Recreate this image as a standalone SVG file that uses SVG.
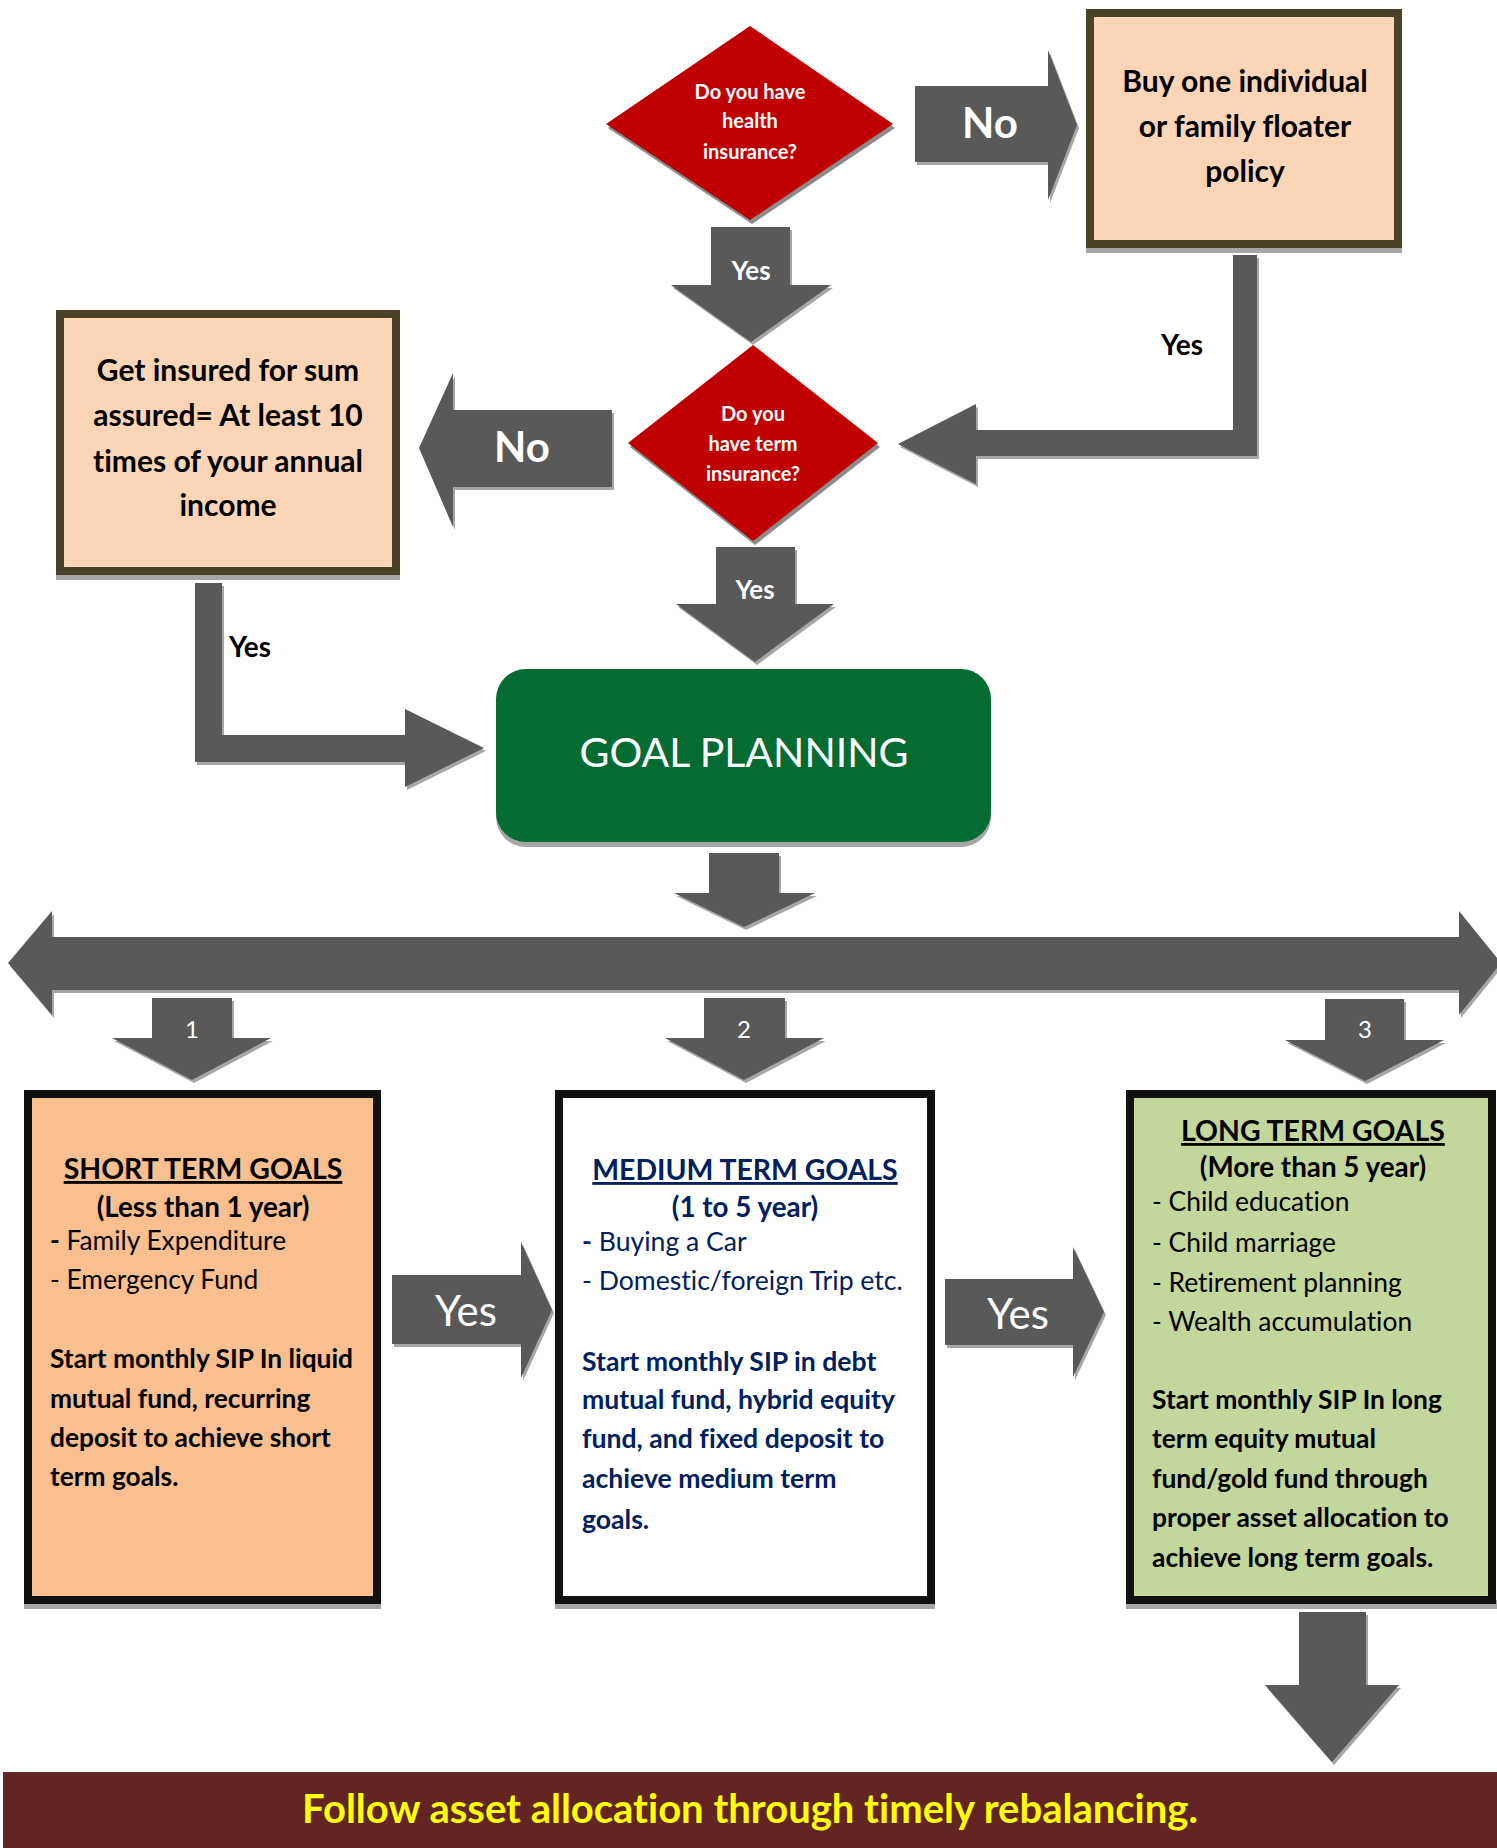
<svg xmlns="http://www.w3.org/2000/svg" width="1497" height="1848" viewBox="0 0 1497 1848">
<style>
text{font-family:Lato,"Liberation Sans",sans-serif;font-variant-ligatures:none}
.ar{fill:#595959}
.sh{fill:#A6A6A6}
.dia{fill:#C00000}
.dsh{fill:#8C8C8C}
.wb{fill:#fff;font-weight:700;text-anchor:middle}
.wr{fill:#fff;font-weight:400;text-anchor:middle}
.kb{fill:#000;font-weight:700;text-anchor:middle}
.peach{fill:#FBD5B5;stroke:#4A4129;stroke-width:8}
.goal{stroke:#111;stroke-width:8}
.bsh{fill:#A6A6A6}
.hd{font-weight:700;text-anchor:middle;text-decoration:underline;font-size:28.4px}
.sub{font-weight:700;text-anchor:middle;font-size:27.8px}
.li{font-weight:400}
.bd{font-weight:700}
</style>
<rect width="1497" height="1848" fill="#fff"/>

<g id="connectors">
  <!-- No right (top) -->
  <polygon class="sh" transform="translate(2,3)" points="915,86 1048,86 1048,50 1077,125 1048,200 1048,162 915,162"/>
  <polygon class="ar" points="915,86 1048,86 1048,50 1077,125 1048,200 1048,162 915,162"/>
  <text class="wb" x="990" y="138" font-size="42">No</text>
  <!-- Yes down (top) -->
  <polygon class="sh" transform="translate(2,3)" points="711,227 790,227 790,285 831,285 751,342 671,285 711,285"/>
  <polygon class="ar" points="711,227 790,227 790,285 831,285 751,342 671,285 711,285"/>
  <text class="wb" x="751" y="280" font-size="26">Yes</text>
  <!-- Yes elbow from box 1 -->
  <polygon class="sh" transform="translate(2,3)" points="1233,255 1257,255 1257,456 976,456 976,484 898,444 976,404 976,430 1233,430"/>
  <polygon class="ar" points="1233,255 1257,255 1257,456 976,456 976,484 898,444 976,404 976,430 1233,430"/>
  <text class="kb" x="1182" y="355" font-size="28">Yes</text>
  <!-- No left -->
  <polygon class="sh" transform="translate(2,3)" points="612,410 453,410 453,373 419,448 453,527 453,487 612,487"/>
  <polygon class="ar" points="612,410 453,410 453,373 419,448 453,527 453,487 612,487"/>
  <text class="wb" x="522" y="462" font-size="42">No</text>
  <!-- Yes down (middle) -->
  <polygon class="sh" transform="translate(2,3)" points="716,547 795,547 795,604 834,604 755,662 676,604 716,604"/>
  <polygon class="ar" points="716,547 795,547 795,604 834,604 755,662 676,604 716,604"/>
  <text class="wb" x="755" y="599" font-size="26">Yes</text>
  <!-- Yes elbow from box 2 -->
  <polygon class="sh" transform="translate(2,3)" points="195,583 222,583 222,735 405,735 405,709 484,748 405,787 405,762 195,762"/>
  <polygon class="ar" points="195,583 222,583 222,735 405,735 405,709 484,748 405,787 405,762 195,762"/>
  <text class="kb" x="250" y="657" font-size="28">Yes</text>
  <!-- down from goal -->
  <polygon class="sh" transform="translate(2,3)" points="709,853 779,853 779,893 815,893 744,927 674,893 709,893"/>
  <polygon class="ar" points="709,853 779,853 779,893 815,893 744,927 674,893 709,893"/>
  <!-- double arrow -->
  <polygon class="sh" transform="translate(2,3)" points="8,963 52,911 52,937 1459,937 1459,911 1501,963 1459,1015 1459,990 52,990 52,1015"/>
  <polygon class="ar" points="8,963 52,911 52,937 1459,937 1459,911 1501,963 1459,1015 1459,990 52,990 52,1015"/>
  <!-- 1 -->
  <polygon class="sh" transform="translate(2,3)" points="152,998 232,998 232,1038 271,1038 192,1080 112,1038 152,1038"/>
  <polygon class="ar" points="152,998 232,998 232,1038 271,1038 192,1080 112,1038 152,1038"/>
  <text class="wr" x="192" y="1038" font-size="24">1</text>
  <!-- 2 -->
  <polygon class="sh" transform="translate(2,3)" points="704,998 785,998 785,1038 824,1038 744,1080 665,1038 704,1038"/>
  <polygon class="ar" points="704,998 785,998 785,1038 824,1038 744,1080 665,1038 704,1038"/>
  <text class="wr" x="744" y="1038" font-size="24">2</text>
  <!-- 3 -->
  <polygon class="sh" transform="translate(2,3)" points="1325,999 1404,999 1404,1040 1444,1040 1365,1081 1285,1040 1325,1040"/>
  <polygon class="ar" points="1325,999 1404,999 1404,1040 1444,1040 1365,1081 1285,1040 1325,1040"/>
  <text class="wr" x="1365" y="1038" font-size="24">3</text>
  <!-- Yes short -> medium -->
  <polygon class="sh" transform="translate(2,3)" points="392,1275 521,1275 521,1242 552,1310 521,1378 521,1344 392,1344"/>
  <polygon class="ar" points="392,1275 521,1275 521,1242 552,1310 521,1378 521,1344 392,1344"/>
  <text class="wr" x="466" y="1326" font-size="42">Yes</text>
  <!-- Yes medium -> long -->
  <polygon class="sh" transform="translate(2,3)" points="945,1279 1073,1279 1073,1247 1104,1312 1073,1377 1073,1345 945,1345"/>
  <polygon class="ar" points="945,1279 1073,1279 1073,1247 1104,1312 1073,1377 1073,1345 945,1345"/>
  <text class="wr" x="1018" y="1329" font-size="42">Yes</text>
  <!-- down to banner -->
  <polygon class="sh" transform="translate(2,3)" points="1299,1612 1366,1612 1366,1685 1399,1685 1332,1762 1265,1685 1299,1685"/>
  <polygon class="ar" points="1299,1612 1366,1612 1366,1685 1399,1685 1332,1762 1265,1685 1299,1685"/>
</g>

<g id="q-health">
  <polygon class="dsh" transform="translate(2,4)" points="750,26 893,124 750,220 606,124"/>
  <polygon class="dia" points="750,26 893,124 750,220 606,124"/>
  <text class="wb" x="750" y="99" font-size="20">Do you have</text>
  <text class="wb" x="750" y="128" font-size="20">health</text>
  <text class="wb" x="750" y="159" font-size="20">insurance?</text>
</g>

<g id="buy-policy">
  <rect class="bsh" x="1086" y="244" width="316" height="9"/>
  <rect class="peach" x="1090" y="13" width="308" height="231"/>
  <text class="kb" x="1245" y="92" font-size="30">Buy one individual</text>
  <text class="kb" x="1245" y="137" font-size="30">or family floater</text>
  <text class="kb" x="1245" y="182" font-size="30">policy</text>
</g>

<g id="q-term">
  <polygon class="dsh" transform="translate(2,4)" points="753,345 878,443 753,541 628,443"/>
  <polygon class="dia" points="753,345 878,443 753,541 628,443"/>
  <text class="wb" x="753" y="421" font-size="20">Do you</text>
  <text class="wb" x="753" y="451" font-size="20">have term</text>
  <text class="wb" x="753" y="481" font-size="20">insurance?</text>
</g>

<g id="get-insured">
  <rect class="bsh" x="56" y="571" width="344" height="9"/>
  <rect class="peach" x="60" y="314" width="336" height="257"/>
  <text class="kb" x="228" y="381" font-size="30">Get insured for sum</text>
  <text class="kb" x="228" y="426" font-size="30">assured= At least 10</text>
  <text class="kb" x="228" y="472" font-size="30">times of your annual</text>
  <text class="kb" x="228" y="516" font-size="30">income</text>
</g>

<g id="goal-planning">
  <rect x="496" y="674" width="495" height="173" rx="30" fill="#A6A6A6"/>
  <rect x="496" y="669" width="495" height="173" rx="30" fill="#046C33"/>
  <text class="wr" x="744" y="767" font-size="41">GOAL PLANNING</text>
</g>

<g id="short-term">
  <rect class="bsh" x="24" y="1600" width="357" height="9"/>
  <rect class="goal" x="28" y="1094" width="349" height="506" fill="#F9BF8F"/>
  <g fill="#000" font-size="26.3">
    <text class="hd" x="203" y="1179">SHORT TERM GOALS</text>
    <text class="sub" x="203" y="1217">(Less than 1 year)</text>
    <text class="li" x="50" y="1250"><tspan font-weight="700">-</tspan> Family Expenditure</text>
    <text class="li" x="50" y="1289">- Emergency Fund</text>
    <text class="bd" x="50" y="1368">Start monthly SIP In liquid</text>
    <text class="bd" x="50" y="1408">mutual fund, recurring</text>
    <text class="bd" x="50" y="1447">deposit to achieve short</text>
    <text class="bd" x="50" y="1486">term goals.</text>
  </g>
</g>

<g id="medium-term">
  <rect class="bsh" x="555" y="1600" width="380" height="9"/>
  <rect class="goal" x="559" y="1094" width="372" height="506" fill="#fff"/>
  <g fill="#002060" font-size="26.6">
    <text class="hd" x="745" y="1180">MEDIUM TERM GOALS</text>
    <text class="sub" x="745" y="1217">(1 to 5 year)</text>
    <text class="li" x="582" y="1251"><tspan font-weight="700">-</tspan> Buying a Car</text>
    <text class="li" x="582" y="1290">- Domestic/foreign Trip etc.</text>
    <text class="bd" x="582" y="1371">Start monthly SIP in debt</text>
    <text class="bd" x="582" y="1409">mutual fund, hybrid equity</text>
    <text class="bd" x="582" y="1448">fund, and fixed deposit to</text>
    <text class="bd" x="582" y="1488">achieve medium term</text>
    <text class="bd" x="582" y="1529">goals.</text>
  </g>
</g>

<g id="long-term">
  <rect class="bsh" x="1126" y="1600" width="371" height="9"/>
  <rect class="goal" x="1130" y="1094" width="362" height="506" fill="#C3D69B"/>
  <g fill="#000" font-size="26.4">
    <text class="hd" x="1313" y="1141">LONG TERM GOALS</text>
    <text class="sub" x="1313" y="1177">(More than 5 year)</text>
    <text class="li" x="1152" y="1211">- Child education</text>
    <text class="li" x="1152" y="1252">- Child marriage</text>
    <text class="li" x="1152" y="1292">- Retirement planning</text>
    <text class="li" x="1152" y="1331">- Wealth accumulation</text>
    <text class="bd" x="1152" y="1409">Start monthly SIP In long</text>
    <text class="bd" x="1152" y="1448">term equity mutual</text>
    <text class="bd" x="1152" y="1488">fund/gold fund through</text>
    <text class="bd" x="1152" y="1527">proper asset allocation to</text>
    <text class="bd" x="1152" y="1567">achieve long term goals.</text>
  </g>
</g>

<g id="banner">
  <rect x="3" y="1772" width="1494" height="76" fill="#632523"/>
  <text x="750" y="1823" font-size="40" font-weight="700" fill="#FFFF00" text-anchor="middle">Follow asset allocation through timely rebalancing.</text>
</g>
</svg>
